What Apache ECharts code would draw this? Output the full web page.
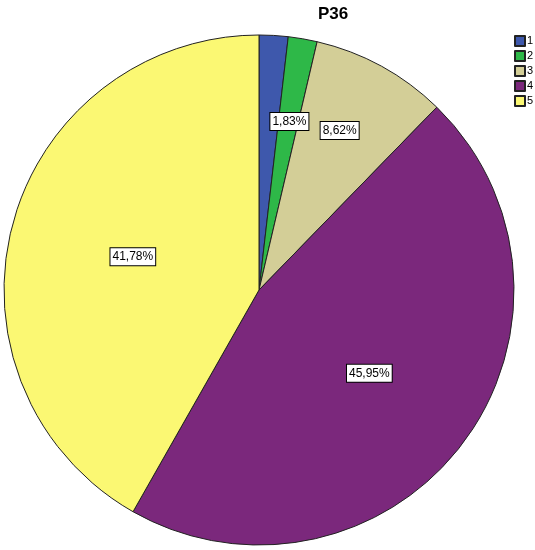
<!DOCTYPE html>
<html>
<head>
<meta charset="utf-8">
<script src="https://cdn.jsdelivr.net/npm/echarts@6/dist/echarts.min.js"></script>
<style>html,body{margin:0;padding:0;background:#fff;}#c{width:535px;height:550px;}</style>
</head>
<body>
<div id="c"></div>
<script>
var categories = ['1', '2', '3', '4', '5'];
var percents = [1.83, 1.83, 8.62, 45.95, 41.78];
var colors = ['#3E58AC', '#2EB848', '#D3CE97', '#7B287C', '#FBF873'];
var showLabel = [false, true, true, true, true];
var labelOffsets = [[0, 0], [8, -40], [18, -45], [6, 5], [0, 0]];

var chart = echarts.init(document.getElementById('c'), null, {renderer: 'canvas'});
var data = categories.map(function (c, i) {
  return {
    name: c,
    value: percents[i],
    itemStyle: {color: colors[i]},
    label: {show: showLabel[i], offset: labelOffsets[i]}
  };
});
chart.setOption({
  backgroundColor: '#fff',
  animation: false,
  title: {
    text: 'P36',
    left: 318,
    top: 6,
    padding: 0,
    textStyle: {fontFamily: 'Liberation Sans, Arial', fontSize: 17, fontWeight: 'bold', color: '#000'}
  },
  legend: {
    orient: 'vertical',
    left: 514,
    top: 35,
    padding: 0,
    itemWidth: 10,
    itemHeight: 10,
    itemGap: 3,
    icon: 'rect',
    textStyle: {fontFamily: 'Liberation Sans, Arial', fontSize: 11, color: '#000', padding: [0, 0, 0, -3]},
    data: categories
  },
  series: [{
    type: 'pie',
    center: [259, 290],
    radius: 255,
    startAngle: 90,
    clockwise: true,
    avoidLabelOverlap: false,
    itemStyle: {borderColor: '#222', borderWidth: 1},
    emphasis: {disabled: true},
    label: {
      position: 'inside',
      formatter: function (p) { return p.value.toFixed(2).replace('.', ',') + '%'; },
      fontFamily: 'Liberation Sans, Arial',
      fontSize: 12,
      color: '#000',
      backgroundColor: '#fff',
      borderColor: '#000',
      borderWidth: 1,
      padding: [3, 2, 2, 2]
    },
    labelLine: {show: false},
    data: data
  }]
});
</script>
</body>
</html>
